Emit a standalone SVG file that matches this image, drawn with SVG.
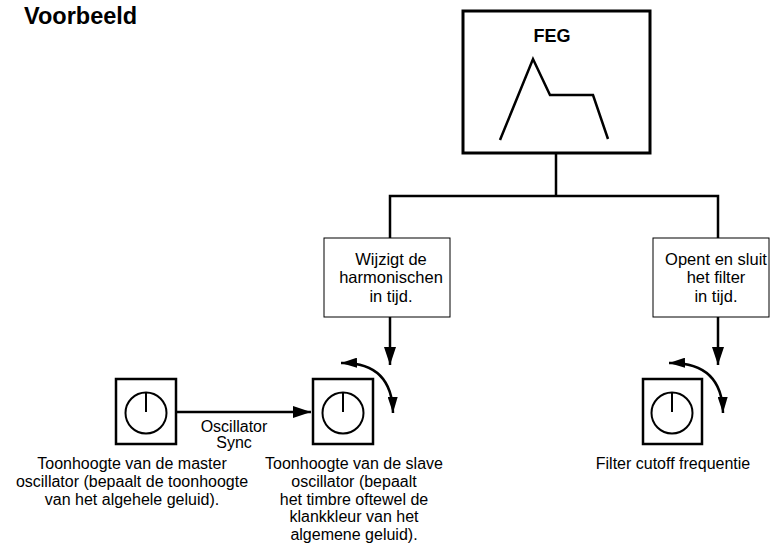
<svg xmlns="http://www.w3.org/2000/svg" width="774" height="554" viewBox="0 0 774 554">
  <style>
    .t { font-family: "Liberation Sans", Arial, sans-serif; font-size: 16px; fill: #000; text-anchor: middle; }
    .tb { font-family: "Liberation Sans", Arial, sans-serif; font-size: 16.5px; fill: #000; text-anchor: middle; }
    .b { font-family: "Liberation Sans", Arial, sans-serif; font-weight: bold; fill: #000; }
    .box { fill: #fff; stroke: #000; stroke-width: 1; }
    .knob { fill: #fff; stroke: #000; stroke-width: 2.5; }
    .ln { fill: none; stroke: #000; stroke-width: 2.5; }
  </style>
  <defs>
    <marker id="ahs" viewBox="0 0 18 12" refX="18" refY="6" markerWidth="18" markerHeight="12" markerUnits="userSpaceOnUse" orient="auto-start-reverse">
      <path d="M0,0 L18,6 L0,12 Z" fill="#000"/>
    </marker>
    <marker id="ahc" viewBox="0 0 16 10" refX="16" refY="5" markerWidth="16" markerHeight="10" markerUnits="userSpaceOnUse" orient="auto-start-reverse">
      <path d="M0,0 L16,5 L0,10 Z" fill="#000"/>
    </marker>
  </defs>

  <text class="b" x="24" y="24" font-size="23.5">Voorbeeld</text>

  <!-- connectors -->
  <g id="connectors">
    <path class="ln" d="M556,153 V196 M390,238 V196 H718 V238" stroke-linejoin="miter"/>
    <line class="ln" x1="390" y1="317" x2="390" y2="365" marker-end="url(#ahs)"/>
    <line class="ln" x1="718" y1="317" x2="718" y2="365" marker-end="url(#ahs)"/>
    <line class="ln" x1="176" y1="412" x2="311" y2="412" marker-end="url(#ahs)"/>
    <path class="ln" d="M341,363 Q392,362 393,413" marker-start="url(#ahc)" marker-end="url(#ahc)"/>
    <path class="ln" d="M669,363 Q722,362 723,413" marker-start="url(#ahc)" marker-end="url(#ahc)"/>
  </g>

  <!-- filter envelope generator -->
  <g id="feg">
    <rect x="463" y="11" width="187" height="142" fill="#fff" stroke="#000" stroke-width="3"/>
    <text class="b" x="552" y="42" font-size="18" text-anchor="middle">FEG</text>
    <polyline class="ln" points="500,140 533,59 550,95 593,95 608,139"/>
  </g>

  <g id="box-harmonics">
    <rect class="box" x="324" y="238" width="126" height="79"/>
    <text class="tb" x="391" y="265">Wijzigt de</text>
    <text class="tb" x="391" y="283">harmonischen</text>
    <text class="tb" x="391" y="302">in tijd.</text>
  </g>

  <g id="box-filter">
    <rect class="box" x="653" y="238" width="116" height="79"/>
    <text class="tb" x="716" y="265">Opent en sluit</text>
    <text class="tb" x="716" y="283">het filter</text>
    <text class="tb" x="716" y="302">in tijd.</text>
  </g>

  <g id="knob-master">
    <rect class="knob" x="116" y="379" width="60" height="65"/>
    <circle cx="146" cy="413" r="20.5" fill="none" stroke="#000" stroke-width="2"/>
    <line x1="146" y1="393" x2="146" y2="412" stroke="#000" stroke-width="2"/>
    <text class="t" x="132" y="469">Toonhoogte van de master</text>
    <text class="t" x="132" y="487">oscillator (bepaalt de toonhoogte</text>
    <text class="t" x="132" y="505">van het algehele geluid).</text>
  </g>

  <g id="sync-label">
    <text class="t" x="234" y="432">Oscillator</text>
    <text class="t" x="234" y="448">Sync</text>
  </g>

  <g id="knob-slave">
    <rect class="knob" x="313" y="379" width="60" height="65"/>
    <circle cx="343" cy="413" r="20.5" fill="none" stroke="#000" stroke-width="2"/>
    <line x1="343" y1="393" x2="343" y2="412" stroke="#000" stroke-width="2"/>
    <text class="t" x="354" y="469">Toonhoogte van de slave</text>
    <text class="t" x="354" y="487">oscillator (bepaalt</text>
    <text class="t" x="354" y="505">het timbre oftewel de</text>
    <text class="t" x="354" y="522">klankkleur van het</text>
    <text class="t" x="354" y="540">algemene geluid).</text>
  </g>

  <g id="knob-filter">
    <rect class="knob" x="643" y="379" width="59" height="65"/>
    <circle cx="672" cy="413" r="20.5" fill="none" stroke="#000" stroke-width="2"/>
    <line x1="672" y1="393" x2="672" y2="412" stroke="#000" stroke-width="2"/>
    <text class="t" x="673" y="469">Filter cutoff frequentie</text>
  </g>
</svg>
